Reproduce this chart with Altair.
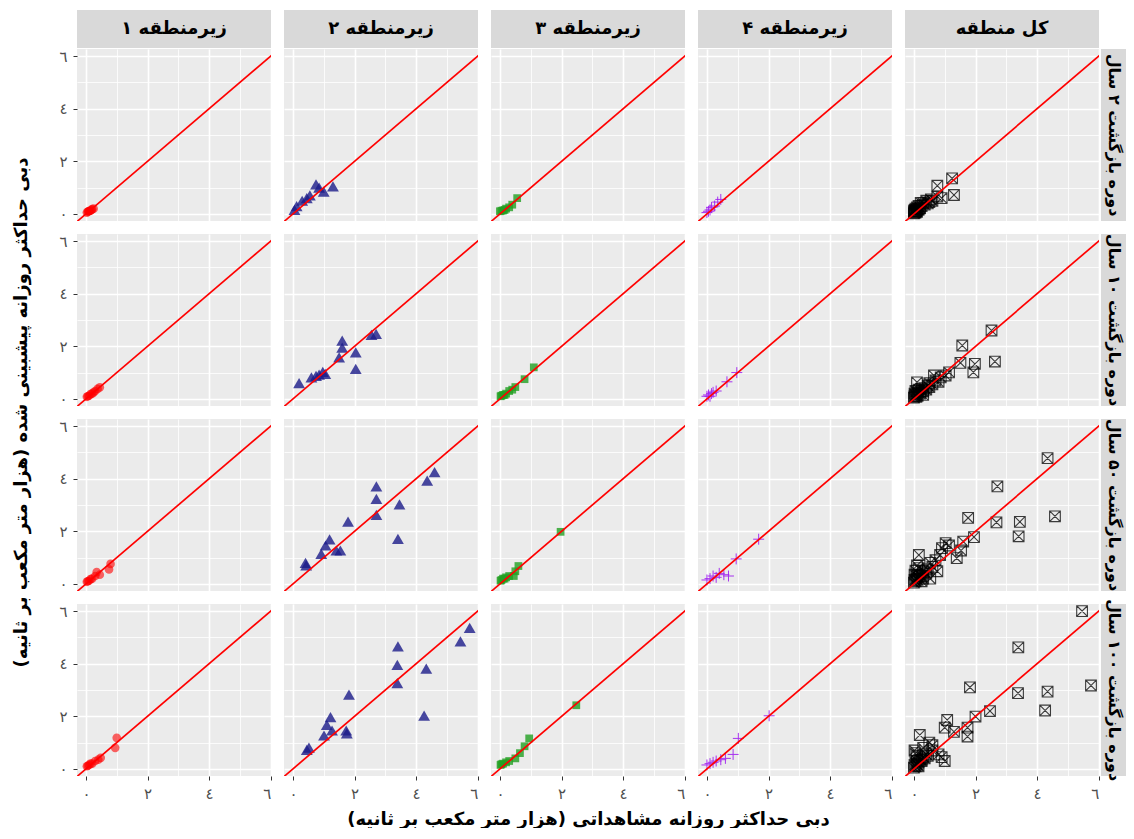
import altair as alt
import pandas as pd

# ---------------- text ----------------
col_names = ["زیرمنطقه ۱", "زیرمنطقه ۲", "زیرمنطقه ۳", "زیرمنطقه ۴", "کل منطقه"]
row_names = ["دوره بازگشت ۲ سال", "دوره بازگشت ۱۰ سال", "دوره بازگشت ۵۰ سال", "دوره بازگشت ۱۰۰ سال"]
x_title = "دبی حداکثر روزانه مشاهداتی (هزار متر مکعب بر ثانیه)"
y_title = "دبی حداکثر روزانه پیشبینی شده (هزار متر مکعب بر ثانیه)"

tick_values = [0, 2, 4, 6]
tick_labels = ["٠", "٢", "٤", "٦"]
grid_values = [0, 1, 2, 3, 4, 5, 6]
x_domain = [-0.29, 6.01]
y_domain = [-0.27, 6.27]
line_ends = [-1, 7]

# ---------------- data (observed, predicted) ----------------
s1_rp2_obs = [0.03, 0.06, 0.08, 0.1, 0.12, 0.15, 0.18, 0.2, 0.25]
s1_rp2_pred = [0.05, 0.08, 0.1, 0.1, 0.12, 0.12, 0.15, 0.18, 0.2]
s1_rp10_obs = [0.03, 0.06, 0.1, 0.15, 0.2, 0.25, 0.3, 0.38, 0.45]
s1_rp10_pred = [0.08, 0.1, 0.12, 0.18, 0.2, 0.25, 0.3, 0.38, 0.44]
s1_rp50_obs = [0.03, 0.06, 0.1, 0.15, 0.2, 0.3, 0.35, 0.45, 0.75, 0.8]
s1_rp50_pred = [0.08, 0.1, 0.12, 0.18, 0.2, 0.3, 0.45, 0.35, 0.55, 0.76]
s1_rp100_obs = [0.03, 0.06, 0.1, 0.15, 0.2, 0.3, 0.4, 0.48, 0.95, 1.0]
s1_rp100_pred = [0.1, 0.12, 0.15, 0.2, 0.2, 0.3, 0.35, 0.42, 0.8, 1.18]

s2_rp2_obs = [0.05, 0.12, 0.3, 0.45, 0.55, 0.75, 0.85, 1.0, 1.3]
s2_rp2_pred = [0.15, 0.3, 0.5, 0.6, 0.7, 1.12, 1.0, 0.85, 1.05]
s2_rp10_obs = [0.2, 0.6, 0.75, 0.85, 0.97, 1.05, 1.5, 1.6, 1.6, 2.04, 2.04, 2.55, 2.7]
s2_rp10_pred = [0.6, 0.82, 0.88, 0.92, 1.03, 0.95, 1.58, 1.95, 2.22, 1.77, 1.14, 2.43, 2.47]
s2_rp50_obs = [0.41, 0.43, 0.92, 1.06, 1.19, 1.41, 1.54, 1.79, 2.71, 2.71, 2.71, 3.46, 3.41, 4.36, 4.6]
s2_rp50_pred = [0.8, 0.7, 1.14, 1.46, 1.69, 1.27, 1.27, 2.37, 3.71, 3.23, 2.62, 3.02, 1.71, 3.93, 4.25]
s2_rp100_obs = [0.52, 0.45, 1.01, 1.1, 1.22, 1.27, 1.73, 1.75, 1.82, 3.41, 3.39, 3.39, 4.33, 4.26, 5.44, 5.74]
s2_rp100_pred = [0.81, 0.72, 1.27, 1.67, 1.97, 1.46, 1.46, 1.35, 2.82, 4.66, 3.96, 3.26, 3.81, 2.03, 4.85, 5.36]

s3_rp2_obs = [0.0, 0.05, 0.1, 0.15, 0.2, 0.3, 0.4, 0.56]
s3_rp2_pred = [0.1, 0.12, 0.13, 0.15, 0.2, 0.25, 0.35, 0.6]
s3_rp10_obs = [0.02, 0.05, 0.1, 0.15, 0.2, 0.3, 0.4, 0.5, 0.8, 1.1]
s3_rp10_pred = [0.1, 0.12, 0.15, 0.15, 0.2, 0.3, 0.35, 0.45, 0.75, 1.2]
s3_rp50_obs = [0.02, 0.05, 0.1, 0.15, 0.2, 0.3, 0.45, 0.5, 0.6, 1.97]
s3_rp50_pred = [0.12, 0.15, 0.2, 0.2, 0.25, 0.3, 0.3, 0.48, 0.68, 1.98]
s3_rp100_obs = [0.02, 0.05, 0.1, 0.2, 0.3, 0.5, 0.65, 0.8, 0.95, 2.48]
s3_rp100_pred = [0.15, 0.18, 0.2, 0.25, 0.3, 0.4, 0.6, 0.86, 1.16, 2.42]

s4_rp2_obs = [0.0, 0.05, 0.1, 0.15, 0.25, 0.35, 0.45]
s4_rp2_pred = [0.05, 0.1, 0.15, 0.25, 0.3, 0.45, 0.55]
s4_rp10_obs = [0.0, 0.05, 0.1, 0.15, 0.2, 0.3, 0.65, 0.97]
s4_rp10_pred = [0.1, 0.15, 0.1, 0.2, 0.25, 0.3, 0.65, 1.0]
s4_rp50_obs = [0.0, 0.1, 0.2, 0.3, 0.4, 0.55, 0.7, 0.95, 1.68]
s4_rp50_pred = [0.15, 0.2, 0.3, 0.25, 0.4, 0.35, 0.3, 0.95, 1.7]
s4_rp100_obs = [0.0, 0.1, 0.2, 0.3, 0.45, 0.6, 0.85, 1.02, 2.02]
s4_rp100_pred = [0.15, 0.2, 0.25, 0.3, 0.35, 0.4, 0.55, 1.16, 2.02]

all_rp2_obs = [1.24, 0.76, 1.3, 0.9, 0.76, 0.55, 0.4, 0.3, 0.22, 0.15, 0.1, 0.05, 0.02, 0.0, 0.08,
               0.12, 0.2, 0.25, 0.35, 0.45, 0.05, 0.03, 0.1, 0.15, 0.18, 0.6, 0.5, 0.0, 0.02, 0.07]
all_rp2_pred = [1.35, 1.07, 0.72, 0.6, 0.66, 0.55, 0.5, 0.4, 0.42, 0.3, 0.25, 0.2, 0.15, 0.1, 0.12,
                0.18, 0.22, 0.3, 0.35, 0.4, 0.05, 0.1, 0.08, 0.15, 0.2, 0.5, 0.45, 0.02, 0.05, 0.1]
all_rp10_obs = [2.52, 1.57, 1.51, 1.98, 1.93, 2.63, 1.14, 1.03, 0.87, 0.65, 0.1, 0.0, 0.02, 0.05, 0.08,
                0.1, 0.12, 0.15, 0.2, 0.25, 0.3, 0.35, 0.4, 0.45, 0.5, 0.6, 0.7, 0.05, 0.15, 0.3,
                0.02, 0.5, 0.8, 0.25]
all_rp10_pred = [2.6, 2.03, 1.37, 1.33, 1.01, 1.42, 1.01, 0.89, 0.82, 0.89, 0.63, 0.05, 0.1, 0.15, 0.08,
                 0.2, 0.12, 0.25, 0.2, 0.3, 0.28, 0.4, 0.35, 0.5, 0.45, 0.55, 0.7, 0.3, 0.35, 0.15,
                 0.2, 0.6, 0.65, 0.4]
all_rp50_obs = [4.34, 2.71, 1.76, 2.68, 3.44, 3.4, 4.58, 1.95, 1.6, 1.53, 1.39, 1.03, 1.14, 0.91, 0.85,
                0.16, 0.53, 0.76, 0.53, 0.0, 0.02, 0.05, 0.08, 0.1, 0.12, 0.15, 0.2, 0.25, 0.3, 0.35,
                0.4, 0.45, 0.05, 0.15, 0.25, 0.02, 0.1, 0.3, 0.6, 0.7]
all_rp50_pred = [4.78, 3.71, 2.51, 2.34, 2.36, 1.81, 2.57, 1.78, 1.61, 1.27, 0.98, 1.55, 1.46, 1.36, 1.1,
                 1.1, 0.8, 0.48, 0.2, 0.05, 0.15, 0.1, 0.2, 0.3, 0.15, 0.25, 0.35, 0.3, 0.2, 0.45,
                 0.4, 0.55, 0.5, 0.6, 0.1, 0.35, 0.7, 0.5, 0.65, 0.9]
all_rp100_obs = [5.46, 3.39, 5.75, 4.34, 3.38, 4.26, 1.82, 2.47, 2.0, 1.74, 1.74, 1.08, 1.0, 1.3, 0.19,
                 0.5, 0.8, 1.0, 0.6, 0.9, 0.0, 0.02, 0.05, 0.08, 0.1, 0.12, 0.15, 0.2, 0.25, 0.3,
                 0.35, 0.4, 0.45, 0.05, 0.15, 0.25, 0.02, 0.1, 0.3, 0.6]
all_rp100_pred = [6.0, 4.62, 3.17, 2.94, 2.88, 2.22, 3.1, 2.2, 1.99, 1.57, 1.23, 1.86, 1.57, 1.41, 1.29,
                  1.0, 0.55, 0.3, 0.7, 0.45, 0.05, 0.15, 0.1, 0.2, 0.3, 0.15, 0.25, 0.35, 0.3, 0.45,
                  0.4, 0.55, 0.5, 0.6, 0.1, 0.35, 0.7, 0.5, 0.8, 0.9]

panels_data = [
    [(s1_rp2_obs, s1_rp2_pred), (s2_rp2_obs, s2_rp2_pred), (s3_rp2_obs, s3_rp2_pred),
     (s4_rp2_obs, s4_rp2_pred), (all_rp2_obs, all_rp2_pred)],
    [(s1_rp10_obs, s1_rp10_pred), (s2_rp10_obs, s2_rp10_pred), (s3_rp10_obs, s3_rp10_pred),
     (s4_rp10_obs, s4_rp10_pred), (all_rp10_obs, all_rp10_pred)],
    [(s1_rp50_obs, s1_rp50_pred), (s2_rp50_obs, s2_rp50_pred), (s3_rp50_obs, s3_rp50_pred),
     (s4_rp50_obs, s4_rp50_pred), (all_rp50_obs, all_rp50_pred)],
    [(s1_rp100_obs, s1_rp100_pred), (s2_rp100_obs, s2_rp100_pred), (s3_rp100_obs, s3_rp100_pred),
     (s4_rp100_obs, s4_rp100_pred), (all_rp100_obs, all_rp100_pred)],
]

# ---------------- styles ----------------
FONT = "DejaVu Sans"
PW, PH = 194, 172          # panel size
SPACING = 13
STRIP_H = 26               # column-strip cell height (rect overflows into spacing)
STRIP_W = 14               # row-strip cell width

styles = [
    dict(shape="circle", color="#FF0000", opacity=0.6, size=75, filled=True),
    dict(shape="triangle-up", color="#1B1B8A", opacity=0.8, size=140, filled=True),
    dict(shape="square", color="#22A022", opacity=0.8, size=60, filled=True),
    dict(shape="M-1,0L1,0M0,-1L0,1", color="#A020F0", opacity=0.9, size=120, filled=False, strokeWidth=1),
    dict(shape="M-1,-1L1,-1L1,1L-1,1Z M-1,-1L1,1 M-1,1L1,-1", color="#000000", opacity=0.75,
         size=115, filled=False, strokeWidth=1.1),
]

label_expr = " : ".join(
    f"datum.value == {v} ? '{t}'" for v, t in zip(tick_values, tick_labels)
) + " : ''"
grid_w = {"condition": {"test": "datum.value % 2 === 0", "value": 1.6}, "value": 0.8}
tick_op = {"condition": {"test": "datum.value % 2 === 0", "value": 1}, "value": 0}

xs = alt.Scale(domain=x_domain, nice=False, zero=False)
ys = alt.Scale(domain=y_domain, nice=False, zero=False)


def make_axis(show, label_pad, title=None):
    kw = dict(
        values=grid_values, labelExpr=label_expr, labels=show, ticks=show,
        tickOpacity=tick_op, tickColor="#333333", tickSize=4, tickWidth=1,
        domain=False, grid=True, gridColor="white", gridWidth=grid_w,
        labelFont=FONT, labelFontSize=15, labelColor="#4D4D4D", labelPadding=label_pad,
        titleFont=FONT, titleFontSize=18, titleFontWeight="bold", titleColor="#000000",
        titlePadding=9,
    )
    kw["title"] = title
    return alt.Axis(**kw)


def make_panel(r, c):
    obs, pred = panels_data[r][c]
    st = styles[c]
    df = pd.DataFrame({"obs": obs, "pred": pred})
    xa = make_axis(r == 3, 6, x_title if (r == 3 and c == 2) else None)
    ya = make_axis(c == 0, 6)
    pts = alt.Chart(df).mark_point(**st).encode(
        x=alt.X("obs:Q", scale=xs, axis=xa),
        y=alt.Y("pred:Q", scale=ys, axis=ya),
    )
    line = alt.Chart(pd.DataFrame({"v": line_ends})).mark_line(
        color="#FF0000", strokeWidth=1.7, clip=True
    ).encode(
        x=alt.X("v:Q", scale=xs, axis=xa),
        y=alt.Y("v:Q", scale=ys, axis=ya),
    )
    layers = [pts, line]
    if r == 1 and c == 0:
        yt = alt.Chart(pd.DataFrame({"t": [y_title]})).mark_text(
            angle=270, font=FONT, fontSize=18, fontWeight="bold", color="#000000",
            align="center", baseline="middle",
        ).encode(text="t:N", x=alt.value(-55), y=alt.value(PH + SPACING / 2))
        layers.append(yt)
    return alt.layer(*layers).properties(
        width=PW, height=PH, view=alt.ViewBackground(fill="#EBEBEB", stroke=None)
    )


def col_strip(name):
    d = pd.DataFrame({"label": [name]})
    rect = alt.Chart(d).mark_rect(color="#D9D9D9").encode(
        x=alt.value(0), x2=alt.value(PW), y=alt.value(0), y2=alt.value(STRIP_H + SPACING - 1)
    )
    txt = alt.Chart(d).mark_text(
        font=FONT, fontSize=18, fontWeight="bold", color="#000000", align="center", baseline="middle"
    ).encode(text="label:N", x=alt.value(PW / 2), y=alt.value((STRIP_H + SPACING - 1) / 2))
    return alt.layer(rect, txt).properties(
        width=PW, height=STRIP_H, view=alt.ViewBackground(stroke=None)
    )


def row_strip(name):
    d = pd.DataFrame({"label": [name]})
    x0 = -(SPACING - 2)
    rect = alt.Chart(d).mark_rect(color="#D9D9D9").encode(
        x=alt.value(x0), x2=alt.value(STRIP_W), y=alt.value(0), y2=alt.value(PH)
    )
    txt = alt.Chart(d).mark_text(
        font=FONT, fontSize=16, fontWeight="bold", color="#000000", angle=90,
        align="center", baseline="middle"
    ).encode(text="label:N", x=alt.value((x0 + STRIP_W) / 2), y=alt.value(PH / 2))
    return alt.layer(rect, txt).properties(
        width=STRIP_W, height=PH, view=alt.ViewBackground(stroke=None)
    )


blank = alt.Chart(pd.DataFrame({"a": [""]})).mark_text().encode(text="a:N").properties(
    width=STRIP_W, height=STRIP_H, view=alt.ViewBackground(stroke=None)
)

cells = [col_strip(n) for n in col_names] + [blank]
for r in range(4):
    for c in range(5):
        cells.append(make_panel(r, c))
    cells.append(row_strip(row_names[r]))

chart = alt.concat(
    *cells, columns=6, spacing=SPACING, bounds="flush", align="each"
).properties(
    padding={"left": 4, "top": 2, "right": 0, "bottom": 0}
).configure_view(stroke=None).configure(background="white")

chart.save("out.html", embed_options={"renderer": "svg", "actions": False})
